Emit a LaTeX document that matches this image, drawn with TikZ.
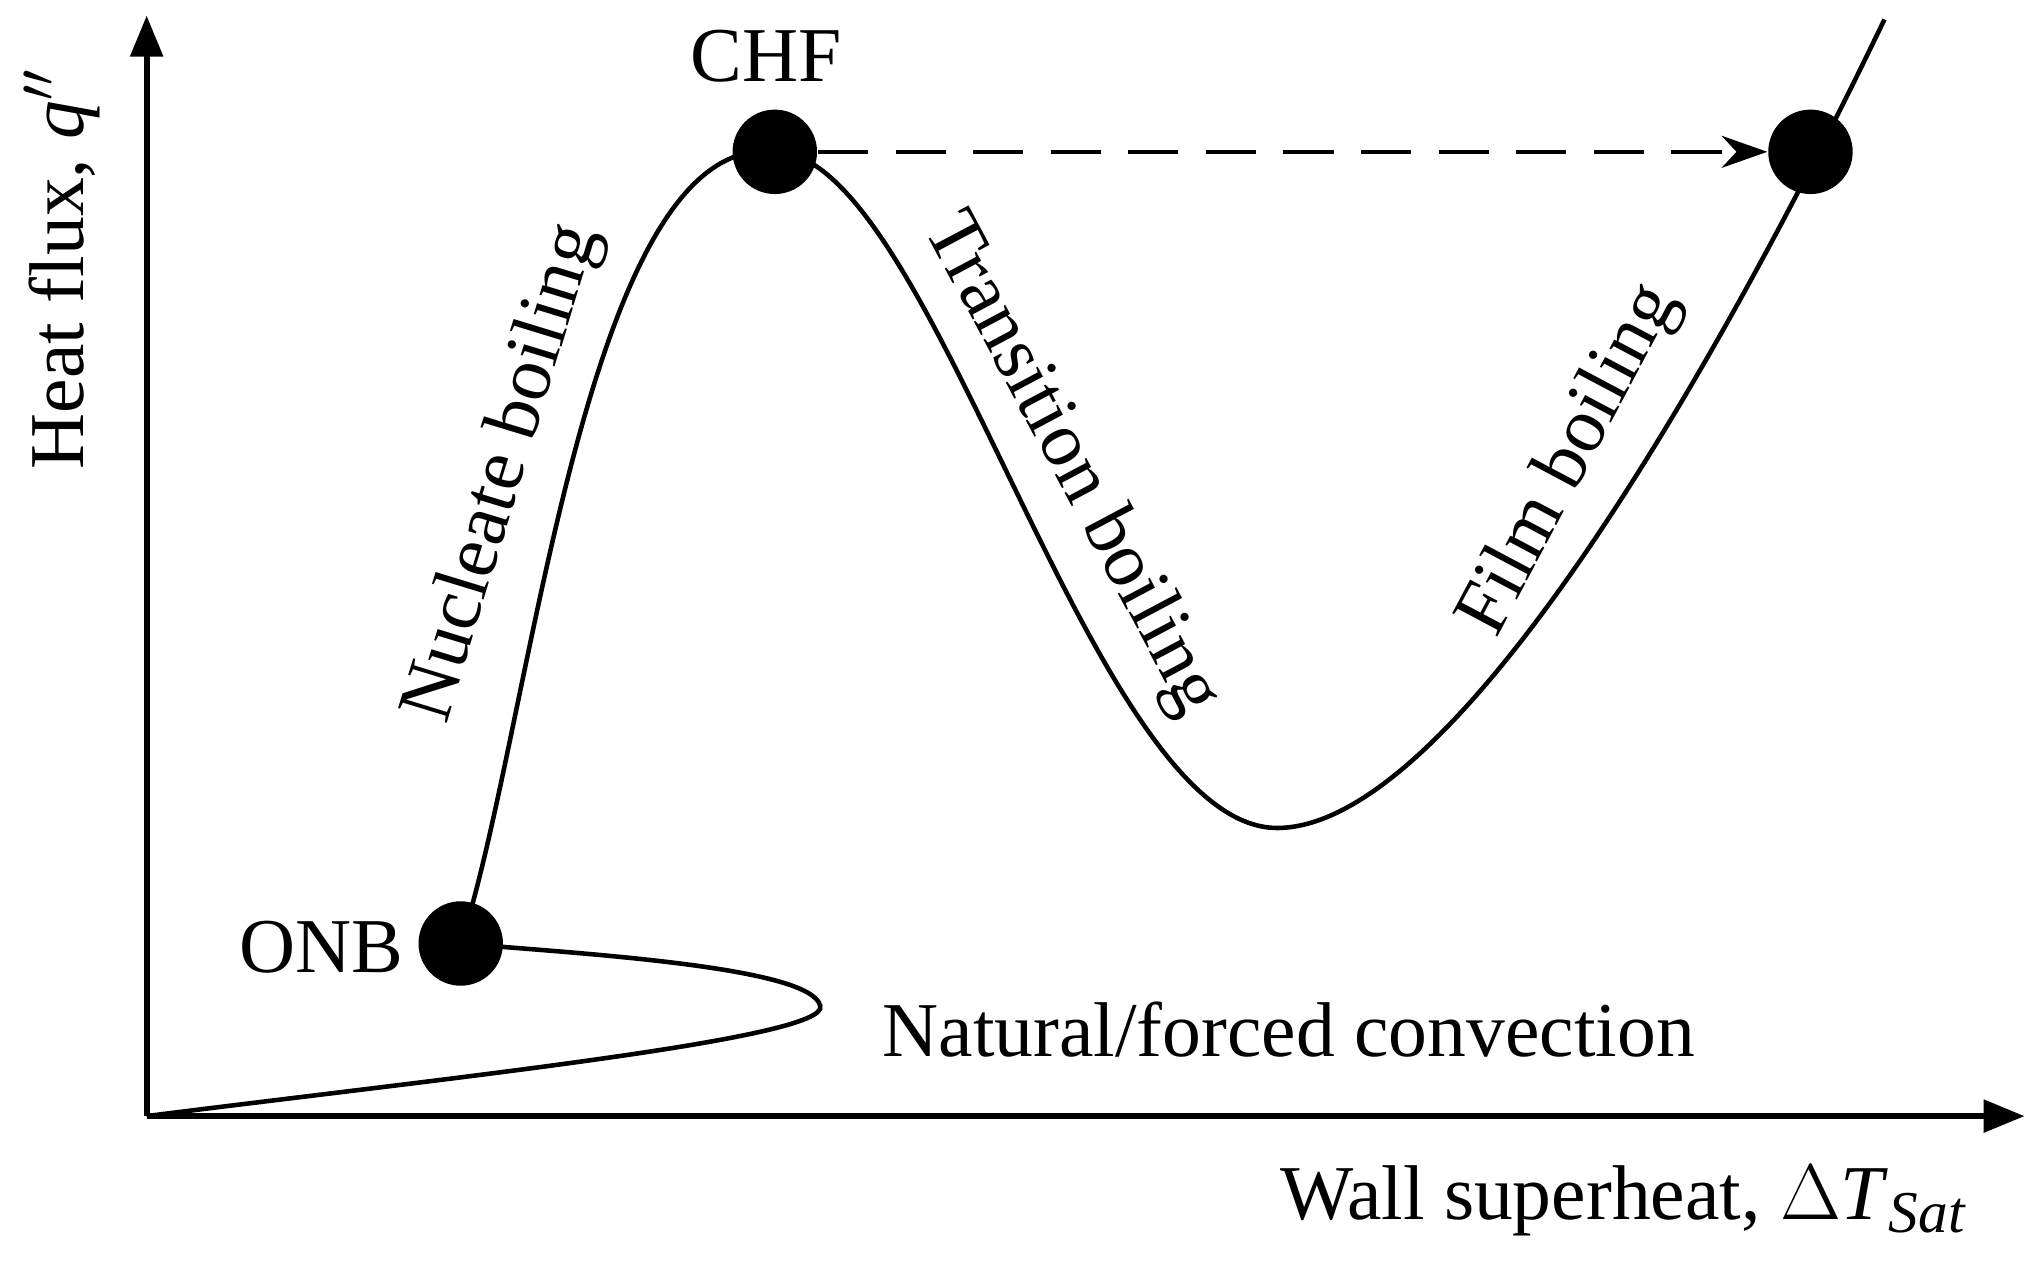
\documentclass[tikz,border=0pt]{standalone}
\usepackage{fontspec}
\setmainfont{Liberation Serif}
\usetikzlibrary{arrows.meta}
\begin{document}
\begin{tikzpicture}[x=0.01cm,y=-0.01cm,
  lbl/.style={font=\fontsize{17}{19}\selectfont,inner sep=0pt},
  dot/.style={circle,fill=black,minimum size=18.5pt,inner sep=0pt},
  ax/.style={line width=1.3pt,-{Triangle[length=9pt,width=7pt]}}]
\useasboundingbox (0,0) rectangle (1568,971);
\coordinate (O) at (113,860);
\coordinate (ytop) at (113,12);
\coordinate (xend) at (1560,860);
\draw[ax] (O) -- (ytop);
\draw[ax] (O) -- (xend);
\node[dot] (onb) at (355,727) {};
\node[dot] (chf) at (597,117) {};
\node[dot] (film) at (1395,117) {};
\coordinate (nose) at (632,775);
\coordinate (min) at (985,638);
\coordinate (tend) at (1452,15);
\draw[line width=1pt] (O) .. controls (350,830) and (640,800) .. (nose)
  .. controls (625,745) and (450,735) .. (onb.center)
  .. controls (410,560) and (450,100) .. (chf.center)
  .. controls (720,117) and (840,640) .. (min)
  .. controls (1120,636) and (1320,290) .. (tend);
\draw[line width=1pt,dash pattern=on 11pt off 6pt,-{Stealth[length=10pt,width=7pt]}] (chf) -- (film);
\node[lbl] (q) at (48,207) [rotate=90] {Heat flux, \textit{q}$''$};
\node[lbl] (wx) at (1250,925) {Wall superheat, $\Delta$\textit{T\kern1pt\raisebox{-3pt}{\fontsize{13}{14}\selectfont Sat}}};
\node[lbl] (lchf) at (590,43) {CHF};
\node[lbl] (lonb) at (248,730) {ONB};
\node[lbl] (lnc) at (993,793) {Natural/forced convection};
\node[lbl,rotate=73] (lnb) at (388,365) {Nucleate boiling};
\node[lbl,rotate=-62] (ltb) at (825,358) {Transition boiling};
\node[lbl,rotate=62] (lfb) at (1210,355) {Film boiling};
\end{tikzpicture}
\end{document}
